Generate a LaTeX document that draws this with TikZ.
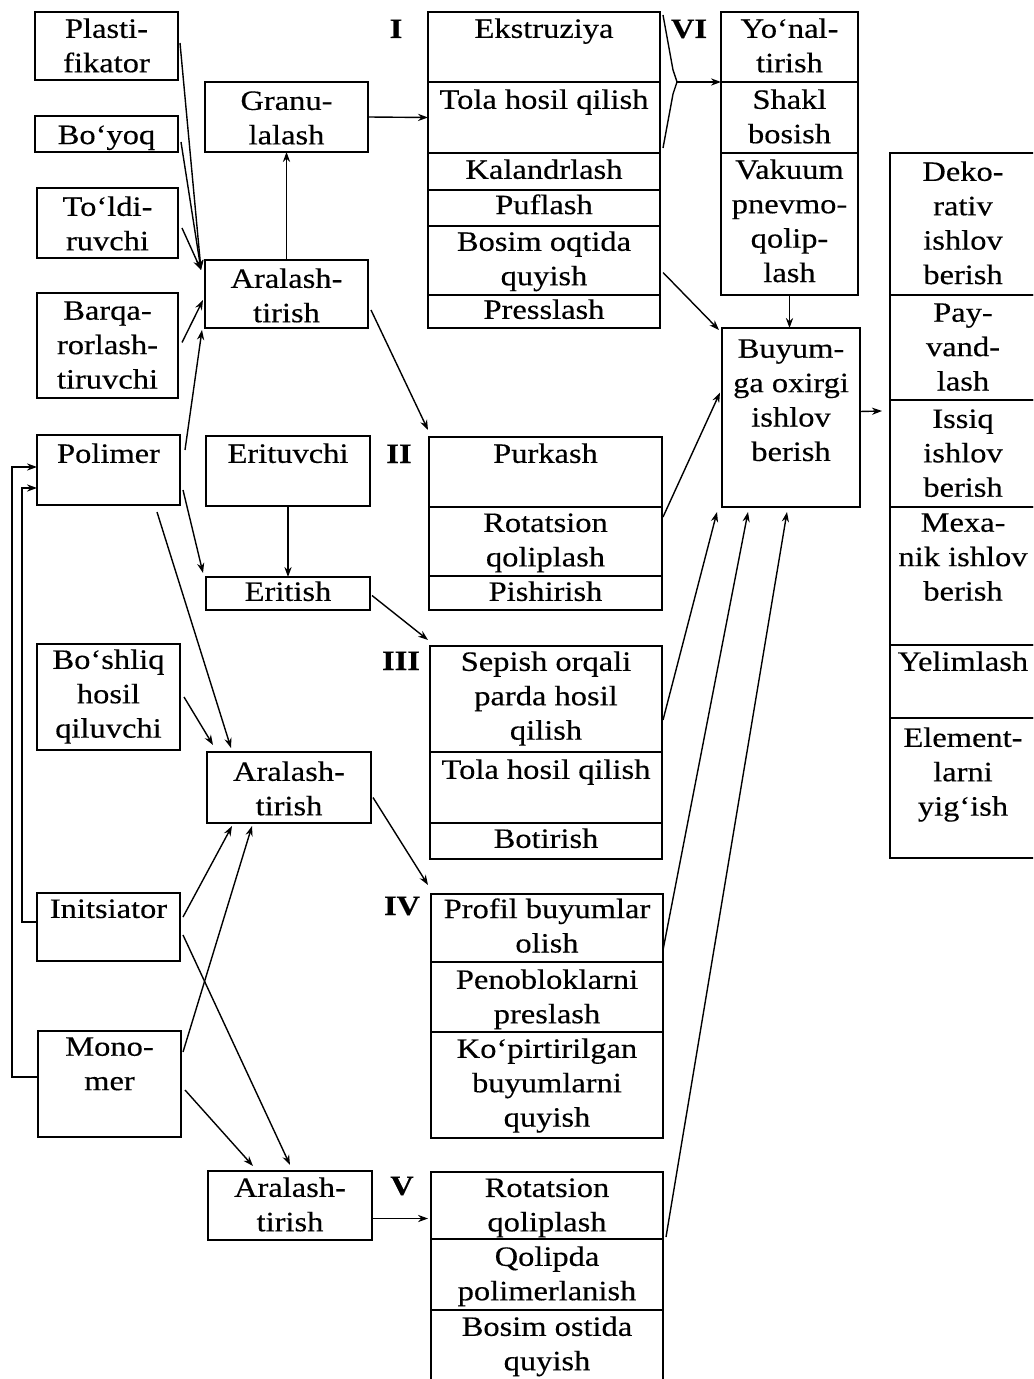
\documentclass[tikz,border=0pt]{standalone}
\usepackage{fontspec}
\setmainfont{Liberation Serif}[FakeStretch=1.16,FakeBold=0.35]
\usetikzlibrary{calc,arrows.meta}
\tikzset{
  cellbox/.style={draw, line width=0.95pt, inner sep=0pt, outer sep=0pt},
  lbl/.style={align=center, inner sep=0pt, anchor=north, font=\fontsize{14}{17.2}\selectfont},
  roman/.style={inner sep=0pt, anchor=base, font=\fontsize{14}{17}\selectfont\bfseries},
  arr/.style={line width=0.7pt, -{Stealth[length=5pt,width=3.6pt]}},
  ln/.style={line width=0.7pt},
}
% #1 text offset, #2 name, #3 x1, #4 y1, #5 x2, #6 y2, #7 text
\newcommand\cell[7][6]{%
  \node[cellbox, minimum width={(#5-#3)*0.5pt}, minimum height={(#6-#4)*0.5pt}] (#2) at ({(#3+#5)/2},{(#4+#6)/2}) {};
  \node[lbl] (#2-t) at ($(#2.north)+(0,#1)$) {#7};}
\begin{document}
\begin{tikzpicture}[x=0.5pt,y=-0.5pt]
\clip (0,0) rectangle (1033,1379);
\fill[white] (0,0) rectangle (1033,1379);

% left column
\cell{plast}{35}{12}{178}{80}{Plasti-\\fikator}
\cell[9]{boyoq}{35}{116}{178}{152}{Bo‘yoq}
\cell[8]{toldi}{37}{188}{178}{258}{To‘ldi-\\ruvchi}
\cell[8]{barq}{37}{293}{178}{398}{Barqa-\\rorlash-\\tiruvchi}
\cell[8]{polim}{37}{435}{180}{505}{Polimer}
\cell[5]{boshl}{37}{644}{180}{750}{Bo‘shliq\\hosil\\qiluvchi}
\cell[6]{init}{37}{893}{180}{961}{Initsiator}
\cell[6]{mono}{38}{1031}{181}{1137}{Mono-\\mer}

% middle column
\cell[9]{gran}{205}{82}{368}{152}{Granu-\\lalash}
\cell[8]{ar1}{205}{260}{368}{328}{Aralash-\\tirish}
\cell[7]{erit}{206}{436}{370}{506}{Erituvchi}
\cell[4]{eris}{206}{577}{370}{610}{Eritish}
\cell[9]{ar2}{207}{752}{371}{823}{Aralash-\\tirish}
\cell[6]{ar3}{208}{1171}{372}{1240}{Aralash-\\tirish}

% group I
\cell{ekst}{428}{12}{660}{82}{Ekstruziya}
\cell[7]{tola1}{428}{82}{660}{153}{Tola hosil qilish}
\cell{kal}{428}{153}{660}{190}{Kalandrlash}
\cell[4]{puf}{428}{190}{660}{226}{Puflash}
\cell[5]{bos1}{428}{226}{660}{295}{Bosim oqtida\\quyish}
\cell[4]{pres}{428}{295}{660}{328}{Presslash}

% group VI
\cell{yon}{721}{12}{858}{82}{Yo‘nal-\\tirish}
\cell[7]{shakl}{721}{82}{858}{153}{Shakl\\bosish}
\cell[6]{vak}{721}{153}{858}{295}{Vakuum\\pnevmo-\\qolip-\\lash}

\cell[11]{buyum}{722}{328}{860}{507}{Buyum-\\ga oxirgi\\ishlov\\berish}

% right column
\cell[8]{dek}{890}{153}{1036}{295}{Deko-\\rativ\\ishlov\\berish}
\cell[8]{pay}{890}{295}{1036}{400}{Pay-\\vand-\\lash}
\cell[9]{issiq}{890}{400}{1036}{507}{Issiq\\ishlov\\berish}
\cell[6]{mex}{890}{507}{1036}{645}{Mexa-\\nik ishlov\\berish}
\cell[6]{yel}{890}{645}{1036}{718}{Yelimlash}
\cell[9]{elem}{890}{718}{1036}{858}{Element-\\larni\\yig‘ish}

% group II
\cell[6]{purk}{429}{437}{662}{507}{Purkash}
\cell[6]{rot2}{429}{507}{662}{576}{Rotatsion\\qoliplash}
\cell[5]{pish}{429}{576}{662}{610}{Pishirish}

% group III
\cell[5]{sep}{430}{646}{662}{752}{Sepish orqali\\parda hosil\\qilish}
\cell[7]{tola3}{430}{752}{662}{823}{Tola hosil qilish}
\cell[5]{bot}{430}{823}{662}{859}{Botirish}

% group IV
\cell[4]{prof}{431}{894}{663}{962}{Profil buyumlar\\olish}
\cell[7]{peno}{431}{962}{663}{1032}{Penobloklarni\\preslash}
\cell[6]{kopir}{431}{1032}{663}{1138}{Ko‘pirtirilgan\\buyumlarni\\quyish}

% group V
\cell[6]{rot5}{431}{1172}{663}{1239}{Rotatsion\\qoliplash}
\cell[7]{qol}{431}{1239}{663}{1310}{Qolipda\\polimerlanish}
\cell[6]{bos5}{431}{1310}{663}{1392}{Bosim ostida\\quyish}

% roman numerals
\node[roman] (rI) at (396,38) {I};
\node[roman] (rVI) at (689,38) {VI};
\node[roman] (rII) at (399,463) {II};
\node[roman] (rIII) at (401,670) {III};
\node[roman] (rIV) at (402,915) {IV};
\node[roman] (rV) at (402,1195) {V};

% connectors into first mixing
\coordinate (mixin) at ($(ar1.north west)+(-4,10)$);
\draw[arr] ($(plast.east)+(2,-3)$) -- (mixin);
\draw[arr] ($(boyoq.east)+(3,8)$) -- (mixin);
\draw[arr] ($(toldi.east)+(4,5)$) -- (mixin);
\draw[arr] ($(barq.east)+(4,-3)$) -- ($(ar1.west)+(-2,6)$);
\draw[arr] ($(polim.north east)+(5,15)$) -- ($(ar1.south west)+(-3,2)$);
\draw[arr] (ar1.north) -- (gran.south);
\draw[arr] (gran.east) -- (tola1.west);
\draw[arr] ($(ar1.east)+(3,16)$) -- ($(purk.north west)+(-1,-7)$);

% brace I -> VI
\coordinate (brtip) at ($(ekst.south east)+(17,0)$);
\draw[ln] ($(ekst.north east)+(3,3)$) -- ($(ekst.south east)+(13,-12)$) -- (brtip)
   -- ($(tola1.north east)+(13,12)$) -- ($(tola1.south east)+(3,-5)$);
\draw[arr] (brtip) -- (yon.south west);

\draw[arr] ($(bos1.east)+(3,12)$) -- ($(buyum.north west)+(-3,2)$);
\draw[arr] (vak.south) -- (vak.south |- buyum.north);
\draw[arr] ($(buyum.east)+(0,-6)$) -- ($(issiq.north west)+(-8,11)$);

\draw[arr] ($(rot2.north east)+(1,10)$) -- ($(buyum.west)+(-2,-25)$);
\draw[arr] ($(sep.east)+(1,21)$) -- ($(buyum.south west)+(-5,5)$);
\draw[arr] ($(prof.south east)+(0,-12)$) -- ($(buyum.south west)+(26,5)$);
\draw[arr] ($(rot5.south east)+(3,-2)$) -- ($(buyum.south west)+(65,5)$);

% solution route
\draw[arr] ($(polim.south east)+(3,-15)$) -- ($(eris.north west)+(-3,-4)$);
\draw[arr] (erit.south) -- (eris.north);
\draw[arr] ($(eris.east)+(2,2)$) -- ($(sep.north west)+(-2,-6)$);

% second mixing
\draw[arr] ($(polim.south east)+(-23,7)$) -- ($(ar2.north west)+(24,-4)$);
\draw[arr] ($(boshl.east)+(4,0)$) -- ($(ar2.north west)+(6,-7)$);
\draw[arr] ($(ar2.east)+(2,10)$) -- ($(prof.north west)+(-3,-9)$);
\draw[arr] ($(init.north east)+(3,24)$) -- ($(ar2.south west)+(25,3)$);
\draw[arr] ($(mono.north east)+(2,21)$) -- ($(ar2.south west)+(45,3)$);

% third mixing
\draw[arr] ($(init.north east)+(3,42)$) -- ($(ar3.north west)+(82,-6)$);
\draw[arr] ($(mono.north east)+(4,59)$) -- ($(ar3.north west)+(45,-5)$);
\draw[arr] ($(ar3.east)+(0,13)$) -- ($(rot5.west)+(-3,13)$);

% feedback to polymer
\draw[arr] ($(mono.west)+(0,-7)$) -- ++(-26,0) |- ($(polim.west)+(0,-3)$);
\draw[arr] ($(init.west)+(0,-5)$) -- ++(-15,0) |- ($(polim.west)+(0,18)$);
\end{tikzpicture}
\end{document}
